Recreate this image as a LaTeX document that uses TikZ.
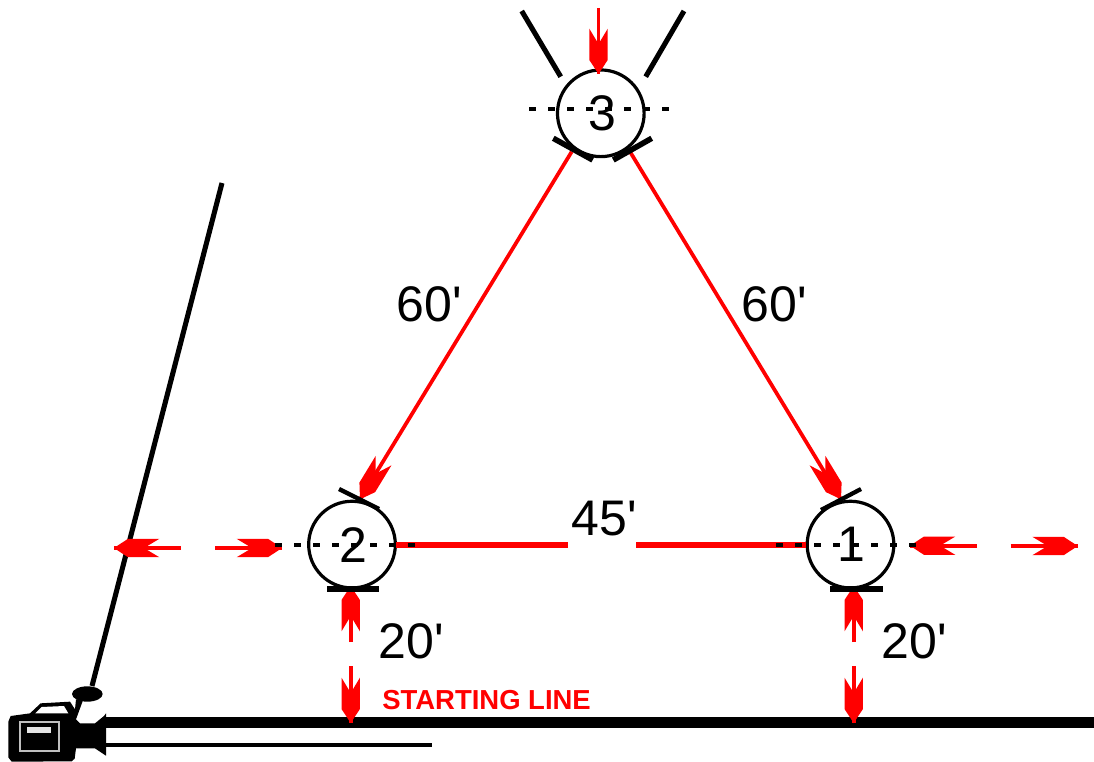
\documentclass[tikz,border=0pt]{standalone}
\usepackage{fontspec}
\setmainfont{Liberation Sans}
\usetikzlibrary{arrows}
\definecolor{pure}{RGB}{255,0,0}
\pgfarrowsdeclare{barbtip}{barbtip}
{\pgfarrowsleftextend{-34pt}\pgfarrowsrightextend{0pt}}
{\pgfsetlinewidth{0pt}\pgfsetdash{}{0pt}
 \pgfpathmoveto{\pgfpoint{0pt}{0pt}}
 \pgfpathlineto{\pgfpoint{-10.5pt}{6.9pt}}
 \pgfpathlineto{\pgfpoint{-34pt}{6.9pt}}
 \pgfpathlineto{\pgfpoint{-24.5pt}{1.2pt}}
 \pgfpathlineto{\pgfpoint{-24.5pt}{-1.2pt}}
 \pgfpathlineto{\pgfpoint{-34pt}{-6.9pt}}
 \pgfpathlineto{\pgfpoint{-10.5pt}{-6.9pt}}
 \pgfpathclose\pgfusepathqfill}
\tikzset{
  mark circle/.style={circle,draw=black,line width=2.4pt,inner sep=0pt,minimum size=65pt,font=\fontsize{37.5pt}{40pt}\selectfont},
  dist/.style={font=\fontsize{37.5pt}{40pt}\selectfont,inner sep=0pt},
  run line/.style={draw=pure,line width=2.8pt,-barbtip},
  base line/.style={draw=pure,line width=4pt},
  dot axis/.style={draw=black,line width=2.7pt,dash pattern=on 5.6pt off 8.65pt},
  gate thin/.style={draw=black,line width=3.2pt},
  gate mid/.style={draw=black,line width=3.8pt},
  gate thick/.style={draw=black,line width=5pt},
  start text/.style={font=\fontsize{20.6pt}{24pt}\selectfont\bfseries,text=pure,inner sep=0pt}
}
\newcommand{\digitlab}[1]{\hspace*{2pt}\raisebox{-2pt}{#1}}
\begin{document}
\begin{tikzpicture}[x=0.75pt,y=-0.75pt]
\useasboundingbox (0,0) rectangle (1094,762);
% marks
\node[mark circle] (n1) at (850.5,544.6) {\digitlab{1}};
\node[mark circle] (n2) at (352,544.6) {\digitlab{2}};
\node[mark circle] (n3) at (600.8,113.3) {\digitlab{3}};
% coordinates
\coordinate (gapL) at (568,545);
\coordinate (gapR) at (636,545);
\coordinate (e2) at (396,545);
\coordinate (w1) at (806,545);
\coordinate (t3l) at (571.7,151.7);
\coordinate (t3r) at (630,151.7);
\coordinate (h2) at (360,499.3);
\coordinate (h1) at (841,499.3);
\coordinate (t3top) at (598.5,8);
\coordinate (h3top) at (598.5,74);
\coordinate (a2l) at (181,548);
\coordinate (b2l) at (114,548);
\coordinate (a2r) at (215,548);
\coordinate (b2r) at (282,548);
\coordinate (a1l) at (977,545.7);
\coordinate (b1l) at (910,545.7);
\coordinate (a1r) at (1010.7,546);
\coordinate (b1r) at (1077.7,546);
\coordinate (u2t) at (350.7,642);
\coordinate (u2h) at (350.7,586);
\coordinate (d2t) at (350.7,666);
\coordinate (d2h) at (350.7,723);
\coordinate (u1t) at (853.7,642);
\coordinate (u1h) at (853.7,586);
\coordinate (d1t) at (853.7,666);
\coordinate (d1h) at (853.7,723);
% ground lines
\draw[black,line width=8.2pt] (106,722.5) -- (1094,722.5);
\draw[black,line width=2.6pt] (106,745) -- (432,745);
\draw[black,line width=3.8pt] (222,183) -- (92,686);
% red connectors
\draw[base line] (e2) -- (gapL);
\draw[base line] (gapR) -- (w1);
\draw[run line] (t3l) -- (h2);
\draw[run line] (t3r) -- (h1);
\draw[run line] (t3top) -- (h3top);
\draw[run line] (a2l) -- (b2l);
\draw[run line] (a2r) -- (b2r);
\draw[run line] (a1l) -- (b1l);
\draw[run line] (a1r) -- (b1r);
\draw[run line] (u2t) -- (u2h);
\draw[run line] (d2t) -- (d2h);
\draw[run line] (u1t) -- (u1h);
\draw[run line] (d1t) -- (d1h);
% dotted axes
\draw[dot axis] (275,545) -- (416,545);
\draw[dot axis] (776,545) -- (917,545);
\draw[dot axis] (529,109.3) -- (670,109.3);
% gates
\draw[gate mid] (521.7,11) -- (560.7,76.7);
\draw[gate mid] (684,11) -- (645.7,76.7);
\draw[gate mid,line width=4.2pt] (553.3,138.3) -- (592.7,160);
\draw[gate mid,line width=4.2pt] (651.7,138.3) -- (613.3,160);
\draw[gate thin] (339,489) -- (379,509);
\draw[gate thin] (821,510) -- (861,489);
\draw[gate thick] (327,589) -- (379,589);
\draw[gate thick] (830,589) -- (882.7,589);
% labels
\node[dist] (l60a) at (429,304) {60\textquotesingle};
\node[dist] (l60b) at (774.5,304) {60\textquotesingle};
\node[dist] (l45) at (604.5,519) {45\textquotesingle};
\node[dist] (l20a) at (411,641) {20\textquotesingle};
\node[dist] (l20b) at (914,641) {20\textquotesingle};
\node[start text,anchor=west] (start) at (382,700.5) {STARTING LINE};
% camera
\begin{scope}[shift={(0,660)},x=0.25pt,y=-0.25pt]
\fill[black] (25,185) -- (32,168) -- (90,160) -- (122,130) -- (210,125) -- (225,148) -- (228,118) -- (250,118) -- (228,178) -- (240,190) -- (285,190) -- (312,168) -- (318,160) -- (318,287) -- (285,265) -- (228,265) -- (224,296) -- (215,304) -- (35,305) -- (25,292) -- cycle;
\fill[black] (262,102) ellipse [x radius=46,y radius=23];
\fill[white] (106,160) -- (125,141) -- (192,138) -- (205,160) -- cycle;
\draw[white!75!black,line width=1.6pt,fill=black] (60,185) rectangle (178,272);
\fill[white!90!black] (82,200) rectangle (152,218);
\end{scope}
\end{tikzpicture}
\end{document}
